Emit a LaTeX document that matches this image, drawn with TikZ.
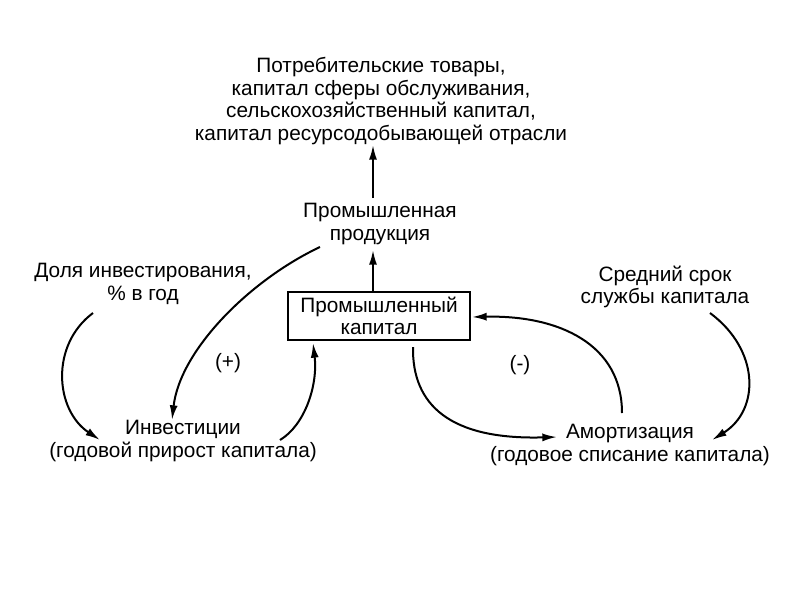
\documentclass[tikz,border=0pt]{standalone}
\usepackage{fontspec}
\setmainfont{Liberation Sans}
\usetikzlibrary{arrows.meta}
\begin{document}
\begin{tikzpicture}[x=0.75pt,y=-0.75pt,
  lbl/.style={align=center,font=\fontsize{15.6}{16.8}\selectfont,inner sep=1pt},
  conn/.style={line width=1.5pt,-{Latex[length=11pt,width=6pt]}},
  capbox/.style={draw,line width=1.3pt,minimum width=136.5pt,minimum height=36pt,inner sep=0pt}]
\useasboundingbox (0,0) rectangle (800,600);
\node[lbl] (top) at (381,101) {Потребительские товары,\\капитал сферы обслуживания,\\сельскохозяйственный капитал,\\капитал ресурсодобывающей отрасли};
\node[lbl] (prod) at (380,224) {Промышленная\\продукция};
\node[lbl,capbox] (cap) at (379,316) {Промышленный\\капитал};
\node[lbl] (share) at (143,284) {Доля инвестирования,\\\% в год};
\node[lbl] (life) at (665,287) {Средний срок\\службы капитала};
\node[lbl] (inv) at (183,441) {Инвестиции\\(годовой прирост капитала)};
\node[lbl] (amort) at (630,445) {Амортизация\\(годовое списание капитала)};
\node[lbl] (plus) at (228,363) {(+)};
\node[lbl] (minus) at (520,365) {(-)};
\coordinate (prodTop) at (373,198);
\coordinate (topBot) at (373,145);
\coordinate (capTop) at (373,292);
\coordinate (prodBot) at (373,250);
\coordinate (prodL) at (320,247);
\coordinate (invTop) at (172,420);
\coordinate (shareB) at (93,313);
\coordinate (invL) at (100,440);
\coordinate (invR) at (280,440);
\coordinate (capBL) at (313,343);
\coordinate (capBR) at (413,347);
\coordinate (amL) at (557,437);
\coordinate (amTop) at (622,413);
\coordinate (capR) at (472,317);
\coordinate (lifeB) at (710,313);
\coordinate (amR) at (712,440);
\draw[conn] (prodTop) -- (topBot);
\draw[conn] (capTop) -- (prodBot);
\draw[conn] (shareB) .. controls (50,345) and (55,410) .. (invL);
\draw[conn] (prodL) .. controls (250,280) and (180,350) .. (invTop);
\draw[conn] (invR) .. controls (305,425) and (318,385) .. (capBL);
\draw[conn] (capBR) .. controls (412,405) and (450,440) .. (amL);
\draw[conn] (amTop) .. controls (622,345) and (560,315) .. (capR);
\draw[conn] (lifeB) .. controls (760,350) and (760,410) .. (amR);
\end{tikzpicture}
\end{document}
